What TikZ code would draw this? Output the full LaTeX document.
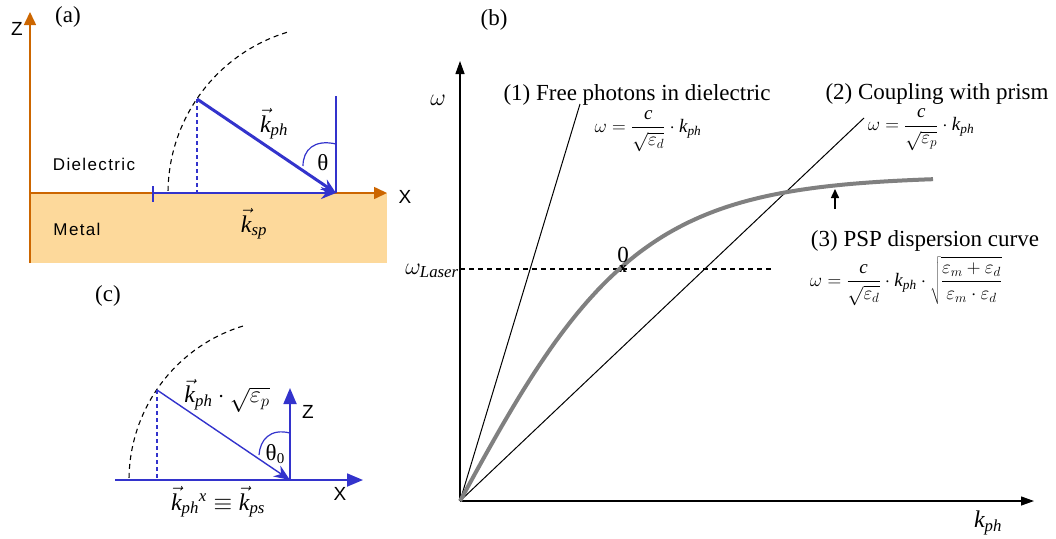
\documentclass[tikz,border=0pt]{standalone}
\usepackage{fix-cm}
\usepackage{fontspec}
\setmainfont{Liberation Serif}
\setsansfont{Liberation Sans}
\newfontfamily\spacedsans[LetterSpace=8]{Liberation Sans}
\usetikzlibrary{arrows.meta}
\definecolor{axo}{RGB}{204,102,0}
\definecolor{metal}{RGB}{253,217,155}
\definecolor{kblue}{RGB}{51,51,204}
\definecolor{curvegray}{RGB}{128,128,128}
\newcommand{\kk}{\mathit{k}}
\newcommand{\vk}{\vec{\mathit{k}}}
\tikzset{
  lbl/.style={inner sep=0pt, font=\fontsize{23}{26}\selectfont},
  sanslbl/.style={inner sep=0pt, font=\sffamily\fontsize{19}{22}\selectfont},
  medlbl/.style={inner sep=0pt, font=\spacedsans\fontsize{17}{20}\selectfont},
  mathlbl/.style={inner sep=0pt, font=\fontsize{24}{27}\selectfont},
  fml/.style={inner sep=0pt, font=\fontsize{19}{22}\selectfont},
  orangeaxis/.style={axo, line width=1.6pt, -{Triangle[length=13pt,width=12pt]}},
  blackaxis/.style={black, line width=1.3pt, -{Triangle[length=13pt,width=9pt]}},
  thinline/.style={black, line width=1pt},
  dashedline/.style={line width=1.1pt, dash pattern=on 5pt off 4pt},
  grayplot/.style={curvegray, line width=4pt},
}
\begin{document}
\begin{tikzpicture}[x=1pt,y=-1pt]
\useasboundingbox (0,0) rectangle (1056,538);

% ---------------- panel (a) ----------------
\fill[metal] (30,193) rectangle (387,263);
\coordinate (aB) at (30,263);
\coordinate (aZ) at (30,12);
\coordinate (aO) at (30,193);
\coordinate (aX) at (387,193);
\draw[orangeaxis] (aB) -- (aZ);
\draw[orangeaxis] (aO) -- (aX);
\node[sanslbl] (aZl) at (17,29) {Z};
\node[sanslbl] (aXl) at (405,197) {X};
\node[lbl] (alab) at (68,17) {(a)};
\node[medlbl] (diel) at (94,164) {Dielectric};
\node[medlbl] (metl) at (77,229) {Metal};

\draw[dashedline] plot[domain=107:180, samples=40] ({336+168*cos(\x)},{193-168*sin(\x)});
\coordinate (aP) at (197,99);
\coordinate (aT) at (336,193);
\coordinate (aS) at (153,193);
\coordinate (aF) at (197,193);
\coordinate (aV) at (336,96);
\coordinate (aS1) at (153,186);
\coordinate (aS2) at (153,202);
\draw[kblue, line width=1.2pt, dash pattern=on 4pt off 3pt] (aP) -- (aF);
\draw[kblue, line width=2.5pt, -{Stealth[length=15pt,width=12pt]}] (aS) -- (aT);
\draw[kblue, line width=2pt] (aS1) -- (aS2);
\draw[kblue, line width=3pt, -{Stealth[length=15pt,width=12pt]}] (aP) -- (aT);
\draw[kblue, line width=1.5pt] (aV) -- (aT);
\draw[kblue, line width=1.2pt] (336,144) .. controls (314,139) and (303,150) .. (303,166);
\node[lbl] (ath) at (323,163) {θ};
\node[mathlbl] (akph) at (274,124) {$\vk_{\mathit{ph}}$};
\node[mathlbl] (aksp) at (254,224) {$\vk_{\mathit{sp}}$};

% ---------------- panel (c) ----------------
\node[lbl] (clab) at (108,296) {(c)};
\draw[dashedline] plot[domain=107:180, samples=40] ({290+161*cos(\x)},{480-161*sin(\x)});
\coordinate (cL) at (115,480);
\coordinate (cO) at (290,480);
\coordinate (cX) at (363,480);
\coordinate (cZ) at (290,388);
\coordinate (cP) at (157,390);
\coordinate (cF) at (157,480);
\draw[kblue, line width=1.2pt] (cL) -- (cO);
\draw[kblue, line width=1.8pt, -{Triangle[length=16pt,width=13pt]}] (cO) -- (cX);
\draw[kblue, line width=1.8pt, -{Triangle[length=16pt,width=13pt]}] (cO) -- (cZ);
\draw[kblue, line width=1.2pt, dash pattern=on 4pt off 3pt] (cP) -- (cF);
\draw[kblue, line width=1.4pt, -{Stealth[length=16pt,width=13pt]}] (cP) -- (cO);
\draw[kblue, line width=1.2pt] (290,433) .. controls (270,428) and (260,440) .. (259,455);
\node[lbl] (cth) at (275,454) {θ\raisebox{-0.35ex}{\fontsize{15}{15}\selectfont 0}};
\node[sanslbl] (cZl) at (308,412) {Z};
\node[sanslbl] (cXl) at (340,494) {X};
\node[mathlbl] (ckph) at (227,396) {$\vk_{\mathit{ph}}\cdot\sqrt{\varepsilon_p}$};
\node[mathlbl] (ckx) at (218,502) {$\vk_{\mathit{ph}}{}^{\mathit{x}}\equiv\vk_{\mathit{ps}}$};

% ---------------- panel (b) ----------------
\node[lbl] (blab) at (494,20) {(b)};
\coordinate (bO) at (460,501);
\coordinate (bY) at (460,61);
\coordinate (bX) at (1034,501);
\draw[blackaxis] (bO) -- (bY);
\draw[blackaxis] (bO) -- (bX);
\node[mathlbl] (bw) at (438,100) {$\omega$};
\node[mathlbl] (bk) at (988,523) {$\kk_{\mathit{ph}}$};
\node[mathlbl] (bwl) at (432,271) {$\omega_{\mathit{Laser}}$};

\coordinate (b1) at (580,104);
\coordinate (b2) at (864,118);
\draw[thinline] (bO) -- (b1);
\draw[thinline] (bO) -- (b2);
\coordinate (bL1) at (460,269);
\coordinate (bL2) at (774,269);
\draw[dashedline] (bL1) -- (bL2);
\draw[grayplot] plot[domain=0:473, samples=90] ({460+\x},{501-325*tanh(\x/178)});
\node[inner sep=0pt, font=\bfseries\fontsize{15}{15}\selectfont] (bx) at (623,269) {x};
\node[lbl] (b0) at (623,255) {0};
\coordinate (bA1) at (835,209);
\coordinate (bA2) at (835,189);
\draw[black, line width=1.5pt, -{Triangle[length=9pt,width=8pt]}] (bA1) -- (bA2);

\node[lbl, anchor=base] (t1) at (637,100) {(1) Free photons in dielectric};
\node[lbl, anchor=base] (t2) at (937,99) {(2) Coupling with prism};
\node[lbl, anchor=base] (t3) at (925,246) {(3) PSP dispersion curve};
\node[fml] (f1) at (648,131) {$\displaystyle \omega=\frac{\mathit{c}}{\sqrt{\varepsilon_d}}\cdot \kk_{\mathit{ph}}$};
\node[fml] (f2) at (921,130) {$\displaystyle \omega=\frac{\mathit{c}}{\sqrt{\varepsilon_p}}\cdot \kk_{\mathit{ph}}$};
\node[fml] (f3) at (906,281) {$\displaystyle \omega=\frac{\mathit{c}}{\sqrt{\varepsilon_d}}\cdot \kk_{\mathit{ph}}\cdot\sqrt{\frac{\varepsilon_m+\varepsilon_d}{\varepsilon_m\cdot\varepsilon_d}}$};
\end{tikzpicture}
\end{document}
